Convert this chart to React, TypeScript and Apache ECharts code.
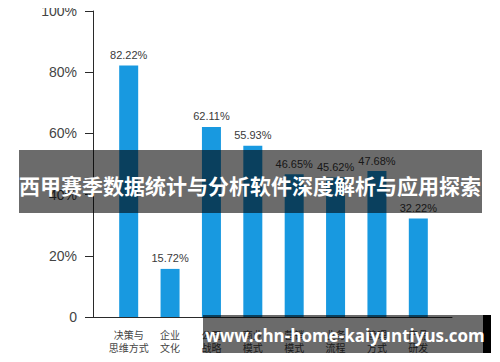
import React, { useEffect, useRef } from "react";
import * as echarts from "echarts";

const categories = [
  "决策与\n思维方式",
  "企业\n文化",
  "公司\n战略",
  "商业\n模式",
  "营销\n模式",
  "业务\n流程",
  "管理\n方式",
  "产品\n研发",
];
const values = [82.22, 15.72, 62.11, 55.93, 46.65, 45.62, 47.68, 32.22];
const yTicks = [0, 20, 40, 60, 80, 100];

const bannerTitle = "西甲赛季数据统计与分析软件深度解析与应用探索";
const siteText = "www.chn-home-kaiyuntiyus.com";

const FONT = "'Liberation Sans', Arial, 'Noto Sans CJK SC', sans-serif";

export default function App() {
  const ref = useRef<HTMLDivElement>(null);

  useEffect(() => {
    if (!ref.current) return;
    const chart = echarts.init(ref.current, null, { renderer: "svg" });
    chart.setOption({
      animation: false,
      backgroundColor: "#ffffff",
      textStyle: { fontFamily: FONT },
      grid: [
        // frame grid: carries the axis lines and y labels
        { left: 93, right: 48, top: 11, bottom: 45 },
        // bar grid: inset so the bars sit inside the frame
        { left: 108, right: 61, top: 11, bottom: 45 },
      ],
      xAxis: [
        {
          type: "category",
          gridIndex: 0,
          data: [""],
          axisLine: { show: true, lineStyle: { color: "#2a2a2a", width: 1 } },
          axisTick: { show: false },
          axisLabel: { show: false },
        },
        {
          type: "category",
          gridIndex: 1,
          data: categories,
          axisLine: { show: false },
          axisTick: { show: false },
          axisLabel: {
            margin: 11,
            color: "#444",
            fontSize: 10,
            lineHeight: 13,
            fontFamily: "'Noto Sans CJK SC', sans-serif",
            interval: 0,
          },
        },
      ],
      yAxis: [
        {
          type: "value",
          gridIndex: 0,
          min: 0,
          max: 100,
          interval: 20,
          axisLine: { show: true, lineStyle: { color: "#2a2a2a", width: 1 } },
          axisTick: { show: true, length: 8, lineStyle: { color: "#2a2a2a" } },
          splitLine: { show: false },
          axisLabel: {
            margin: 16,
            color: "#444",
            fontSize: 14,
            formatter: (v: number) =>
              yTicks.includes(v) ? (v === 0 ? "0" : v + "%") : "",
          },
        },
        {
          type: "value",
          gridIndex: 1,
          min: 0,
          max: 100,
          show: false,
        },
      ],
      series: [
        {
          type: "bar",
          xAxisIndex: 1,
          yAxisIndex: 1,
          data: values,
          barWidth: 19,
          itemStyle: { color: "#1899e0" },
          label: {
            show: true,
            position: "top",
            distance: 5,
            color: "#3a3a3a",
            fontSize: 11,
            formatter: (p: any) => p.value.toFixed(2) + "%",
          },
        },
      ],
      graphic: [
        {
          type: "rect",
          shape: { x: 19, y: 150, width: 463, height: 63 },
          style: { fill: "rgba(0,0,0,0.58)" },
          z: 100,
        },
        {
          type: "text",
          x: 250,
          y: 185,
          style: {
            text: bannerTitle,
            fill: "#ffffff",
            font: "bold 21px 'Noto Sans CJK SC', sans-serif",
            align: "center",
            verticalAlign: "middle",
          },
          z: 101,
        },
        {
          type: "rect",
          shape: { x: 203, y: 315, width: 280, height: 38 },
          style: { fill: "rgba(0,0,0,0.58)" },
          z: 100,
        },
        {
          type: "rect",
          shape: { x: 483, y: 315, width: 8, height: 38 },
          style: { fill: "#000000" },
          z: 100,
        },
        {
          type: "text",
          x: 345,
          y: 335,
          style: {
            text: siteText,
            fill: "#ffffff",
            font: "bold 17px 'Open Sans', sans-serif",
            align: "center",
            verticalAlign: "middle",
          },
          z: 101,
        },
      ],
    });
    return () => chart.dispose();
  }, []);

  return <div ref={ref} style={{ width: 500, height: 362, margin: -8 }} />;
}
